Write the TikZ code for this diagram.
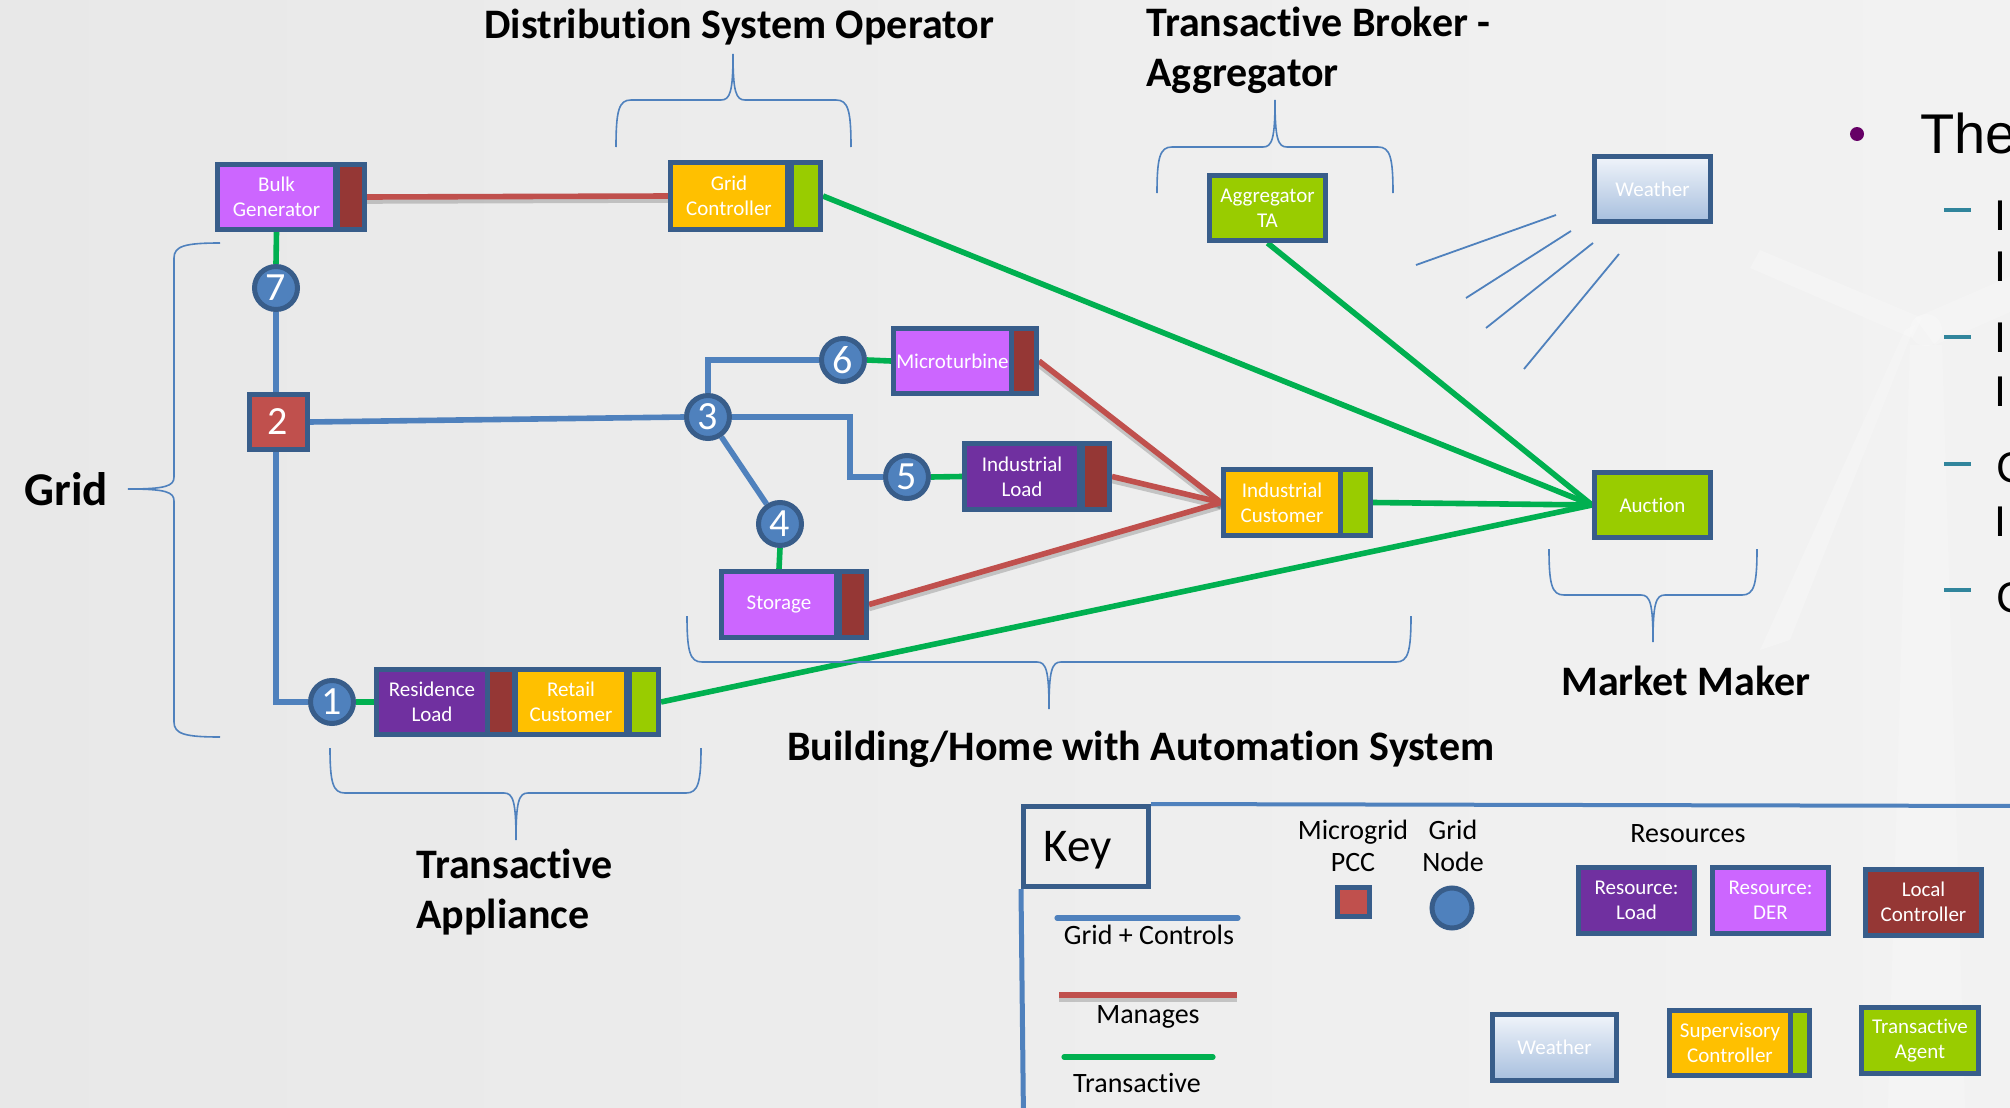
\documentclass[tikz,border=0pt]{standalone}
\usepackage{fontspec}
\setmainfont{Carlito}[Ligatures={NoCommon}]
\newfontfamily\slidefont{Liberation Sans}

\definecolor{frameblue}{HTML}{385D8A}
\definecolor{gridblue}{HTML}{4F81BD}
\definecolor{mngred}{HTML}{C0504D}
\definecolor{trgreen}{HTML}{00B050}
\definecolor{ldpurple}{HTML}{7030A0}
\definecolor{derpurple}{HTML}{CC66FF}
\definecolor{lcred}{HTML}{953735}
\definecolor{scyellow}{HTML}{FFC000}
\definecolor{tagreen}{HTML}{99CC00}
\definecolor{bulletpurple}{HTML}{660066}
\definecolor{dashteal}{HTML}{31859C}
\definecolor{wxtop}{HTML}{F0F4FA}
\definecolor{wxbot}{HTML}{A7BFDE}

\pgfdeclarelayer{backdrop}
\pgfdeclarelayer{wires}
\pgfsetlayers{backdrop,wires,main}

\tikzset{
  blk/.style={rectangle, draw=frameblue, line width=2.5pt, inner sep=0pt,
    text=white, align=center, font=\fontsize{10.5}{12.5}\selectfont},
  sz/.style 2 args={minimum width=#1, minimum height=#2},
  gnode/.style={circle, draw=frameblue, line width=2.5pt, fill=gridblue,
    minimum size=21.5pt, inner sep=0pt, text=white, font=\fontsize{20}{20}\selectfont},
  pccnode/.style={rectangle, draw=frameblue, line width=2.5pt, fill=mngred,
    inner sep=0pt, text=white, font=\fontsize{20}{20}\selectfont},
  wxbox/.style={blk, top color=wxtop, bottom color=wxbot},
  gridline/.style={draw=gridblue, line width=2.8pt},
  mngline/.style={draw=mngred, line width=2.8pt,
    preaction={draw=black, opacity=0.18, line width=2.8pt, transform canvas={yshift=-2pt}}},
  trline/.style={draw=trgreen, line width=2.8pt},
  bracket/.style={draw=gridblue, line width=0.8pt},
  heading/.style={font=\bfseries\fontsize{21}{25}\selectfont, inner sep=0pt, anchor=base west},
  keytext/.style={font=\fontsize{14}{16}\selectfont, inner sep=0pt, anchor=base},
  slidetext/.style={font=\slidefont\fontsize{28}{28}\selectfont, inner sep=0pt, anchor=base west},
  subtext/.style={font=\slidefont\fontsize{21.5}{21.5}\selectfont, inner sep=0pt, anchor=base west},
}

\begin{document}
\begin{tikzpicture}[x=0.5pt, y=-0.5pt]
\useasboundingbox (0,0) rectangle (2010,1108);
\clip (0,0) rectangle (2010,1108);

% ---------- backdrop ----------
\begin{pgfonlayer}{backdrop}
  \shade[left color=black!9, right color=black!5] (0,0) rectangle (2010,1108);
  % faint wind turbine
  \begin{scope}[fill=white, opacity=0.22]
    \fill (1910,345) -- (1942,345) -- (1965,1108) -- (1888,1108) -- cycle;
    \fill (1915,318) -- (2060,255) -- (2060,290) -- (1935,345) -- cycle;
    \fill (1915,325) -- (1790,640) -- (1760,650) -- (1905,330) -- cycle;
    \fill (1922,318) -- (1760,250) -- (1750,268) -- (1912,338) -- cycle;
    \fill (1926,330) circle (16);
  \end{scope}
\end{pgfonlayer}

% ---------- headings ----------
\node[heading] (hdso) at (484,39) {Distribution System Operator};
\node[heading] (htb1) at (1146,36) {Transactive Broker -};
\node[heading] (htb2) at (1146,86) {Aggregator};
\node[heading, font=\bfseries\fontsize{23.5}{25}\selectfont] (hgrid) at (24,505) {Grid};
\node[heading] (hta1) at (416,878) {Transactive};
\node[heading] (hta2) at (416,928) {Appliance};
\node[heading] (hbld) at (787,760) {Building/Home with Automation System};
\node[heading] (hmm) at (1561,695) {Market Maker};

% ---------- braces ----------
\draw[bracket] (616,147) .. controls (616,110) and (619,100) .. (631,100) -- (721,100)
  .. controls (730,100) and (733,92) .. (733,54) .. controls (733,92) and (736,100) .. (745,100)
  -- (836,100) .. controls (848,100) and (851,110) .. (851,147);
\draw[bracket] (1157,193) .. controls (1157,157) and (1160,147) .. (1172,147) -- (1263,147)
  .. controls (1272,147) and (1275,139) .. (1275,100) .. controls (1275,139) and (1278,147) .. (1287,147)
  -- (1378,147) .. controls (1390,147) and (1393,157) .. (1393,193);
\draw[bracket] (1549,549) .. controls (1549,585) and (1552,595) .. (1564,595) -- (1641,595)
  .. controls (1650,595) and (1653,603) .. (1653,642) .. controls (1653,603) and (1656,595) .. (1665,595)
  -- (1742,595) .. controls (1754,595) and (1757,585) .. (1757,549);
\draw[bracket] (687,616) .. controls (687,652) and (690,662) .. (702,662) -- (1037,662)
  .. controls (1046,662) and (1049,670) .. (1049,709) .. controls (1049,670) and (1052,662) .. (1061,662)
  -- (1396,662) .. controls (1408,662) and (1411,652) .. (1411,616);
\draw[bracket] (330,748) .. controls (330,783) and (333,793) .. (345,793) -- (504,793)
  .. controls (513,793) and (516,801) .. (516,840) .. controls (516,801) and (519,793) .. (528,793)
  -- (686,793) .. controls (698,793) and (701,783) .. (701,748);
\draw[bracket] (220,243) .. controls (185,243) and (174,246) .. (174,258) -- (174,477)
  .. controls (174,486) and (166,489) .. (128,489) .. controls (166,489) and (174,492) .. (174,501)
  -- (174,722) .. controls (174,734) and (185,737) .. (220,737);

% ---------- equipment boxes ----------
\node[blk, sz={59pt}{32.5pt}, fill=derpurple] (bg) at (276.5,197) {Bulk\\Generator};
\node[blk, sz={13.5pt}{32.5pt}, fill=lcred] (bgc) at (351,197) {};
\node[blk, sz={58.5pt}{33.5pt}, fill=scyellow] (gc) at (729,196) {Grid\\Controller};
\node[blk, sz={14.5pt}{33.5pt}, fill=tagreen] (gcc) at (806,196) {};

\node[blk, sz={55.5pt}{32.5pt}, fill=ldpurple] (rl) at (432,702) {Residence\\Load};
\node[blk, sz={13.5pt}{32.5pt}, fill=lcred] (rlc) at (501,702) {};
\node[blk, sz={55.5pt}{32.5pt}, fill=scyellow] (rc) at (571,702) {Retail\\Customer};
\node[blk, sz={14.5pt}{32.5pt}, fill=tagreen] (rcc) at (644,702) {};

\node[blk, sz={59pt}{32.5pt}, fill=derpurple] (mt) at (952.5,361) {Microturbine};
\node[blk, sz={12.5pt}{32.5pt}, fill=lcred] (mtc) at (1024,361) {};
\node[blk, sz={57.5pt}{33pt}, fill=ldpurple] (il) at (1022,476.5) {Industrial\\Load};
\node[blk, sz={13.5pt}{33pt}, fill=lcred] (ilc) at (1096,476.5) {};
\node[blk, sz={57.5pt}{33pt}, fill=derpurple] (st) at (779,604.5) {Storage};
\node[blk, sz={13.5pt}{33pt}, fill=lcred] (stc) at (853,604.5) {};
\node[blk, sz={58.5pt}{33pt}, fill=scyellow] (ic) at (1282,502.5) {Industrial\\Customer};
\node[blk, sz={15pt}{33pt}, fill=tagreen] (icc) at (1355.5,502.5) {};

\node[blk, sz={58pt}{32.5pt}, fill=tagreen] (agg) at (1267.5,208) {Aggregator\\TA};
\node[wxbox, sz={58pt}{32.5pt}] (wx) at (1652.5,189) {Weather};
\node[blk, sz={58pt}{32.5pt}, fill=tagreen] (auc) at (1652.5,505) {Auction};

% ---------- grid nodes ----------
\node[gnode] (n7) at (276,288) {7};
\node[pccnode, minimum width=29pt, minimum height=27.5pt] (n2) at (278,422) {2};
\node[gnode] (n1) at (332,702) {1};
\node[gnode] (n3) at (708,417) {3};
\node[gnode] (n6) at (843,360) {6};
\node[gnode] (n5) at (907,477) {5};
\node[gnode] (n4) at (780,524) {4};
\coordinate (k35) at (850,417);

% ---------- weather rays ----------
\draw[gridblue, line width=0.9pt] (1416,265) -- (1556,215);
\draw[gridblue, line width=0.9pt] (1466,298) -- (1571,231);
\draw[gridblue, line width=0.9pt] (1486,328) -- (1593,243);
\draw[gridblue, line width=0.9pt] (1524,369) -- (1619,254);

% ---------- connectors ----------
\begin{pgfonlayer}{wires}
  % grid + controls
  \draw[gridline] (n7.south) -- (n7.south |- n2.north);
  \draw[gridline] (n2.south -| n7.south) |- (n1.west);
  \draw[gridline] (n2.east) -- (n3.west);
  \draw[gridline] (n3.north) |- (n6.west);
  \draw[gridline] (n3.east) -- (k35) |- (n5.west);
  \draw[gridline] (n3) -- (n4);
  % manages
  \draw[mngline] (bgc.east) -- (gc.west);
  \draw[mngline] (mtc.east) -- (ic.west);
  \draw[mngline] (ilc.east) -- (ic.west);
  \draw[mngline] (stc.east) -- (ic.west);
  % transactive
  \draw[trline] (bg.south) -- (n7.north);
  \draw[trline] (n1.east) -- (rl.west);
  \draw[trline] (n6.east) -- (mt.west);
  \draw[trline] (n5.east) -- (il.west);
  \draw[trline] (n4.south) -- (st.north);
  \draw[trline] (gcc.east) -- (auc.west);
  \draw[trline] (agg.south) -- (auc.west);
  \draw[trline] (icc.east) -- (auc.west);
  \draw[trline] (rcc.east) -- (auc.west);
\end{pgfonlayer}

% ---------- key ----------
\node[rectangle, draw=frameblue, line width=2.5pt, minimum width=62.5pt, minimum height=40pt] (keybox) at (1086,846.5) {};
\node[font=\fontsize{23.5}{25}\selectfont, inner sep=0pt, anchor=base west] (keylbl) at (1043,861) {Key};
\coordinate (keyR) at (2020,806);
\coordinate (keyB) at (1023.5,1120);
\draw[gridblue, line width=2pt] (keybox.north east) -- (keyR);
\draw[gridblue, line width=2.5pt] (keybox.south west) -- (keyB);

\coordinate (lgA1) at (1057,918); \coordinate (lgA2) at (1238,918);
\coordinate (lgB1) at (1059,995); \coordinate (lgB2) at (1237,995);
\coordinate (lgC1) at (1064,1057); \coordinate (lgC2) at (1213,1057);
\draw[gridline, line width=2.6pt, line cap=round] (lgA1) -- (lgA2);
\draw[mngline, line width=2.6pt] (lgB1) -- (lgB2);
\draw[trline, line width=2.6pt, line cap=round] (lgC1) -- (lgC2);
\node[keytext] (lgAt) at (1149,944) {Grid + Controls};
\node[keytext] (lgBt) at (1148,1023) {Manages};
\node[keytext] (lgCt) at (1137,1092) {Transactive};

\node[keytext] (kmg1) at (1353,839) {Microgrid};
\node[keytext] (kmg2) at (1353,871) {PCC};
\node[keytext] (kgn1) at (1453,839) {Grid};
\node[keytext] (kgn2) at (1453,871) {Node};
\node[pccnode, minimum width=16pt, minimum height=14.5pt] (kpcc) at (1353.5,902) {};
\node[gnode, minimum size=20pt] (kgn) at (1452,908) {};

\node[keytext] (kres) at (1688,842) {Resources};
\node[blk, sz={58pt}{33pt}, fill=ldpurple] (kld) at (1636.5,900.5) {Resource:\\Load};
\node[blk, sz={58pt}{33pt}, fill=derpurple] (kder) at (1770.5,900.5) {Resource:\\DER};
\node[blk, sz={58pt}{33pt}, fill=lcred] (klc) at (1923.5,902) {Local\\Controller};
\node[wxbox, sz={62pt}{33pt}] (kwx) at (1554.5,1047.5) {Weather};
\node[blk, sz={60.5pt}{32.5pt}, fill=scyellow] (ksc) at (1730,1043) {Supervisory\\Controller};
\node[blk, sz={9.5pt}{32.5pt}, fill=tagreen] (kscc) at (1800,1043) {};
\node[blk, sz={58.5pt}{33pt}, fill=tagreen] (kta) at (1920,1040.5) {Transactive\\Agent};

% ---------- slide text at the right edge ----------
\fill[bulletpurple] (1857,134) circle (7);
\node[slidetext] (sthe) at (1920,153) {The};
\foreach \yy in {210,337,464,590}
  \draw[dashteal, line width=2pt] (1944,\yy) -- (1971,\yy);
\node[subtext] (s1) at (1994,230) {I};
\node[subtext] (s2) at (1994,281) {I};
\node[subtext] (s3) at (1994,352) {I};
\node[subtext] (s4) at (1994,406) {I};
\node[subtext] (s5) at (1996,482) {C};
\node[subtext] (s6) at (1994,536) {I};
\node[subtext] (s7) at (1996,612) {C};
\end{tikzpicture}
\end{document}
